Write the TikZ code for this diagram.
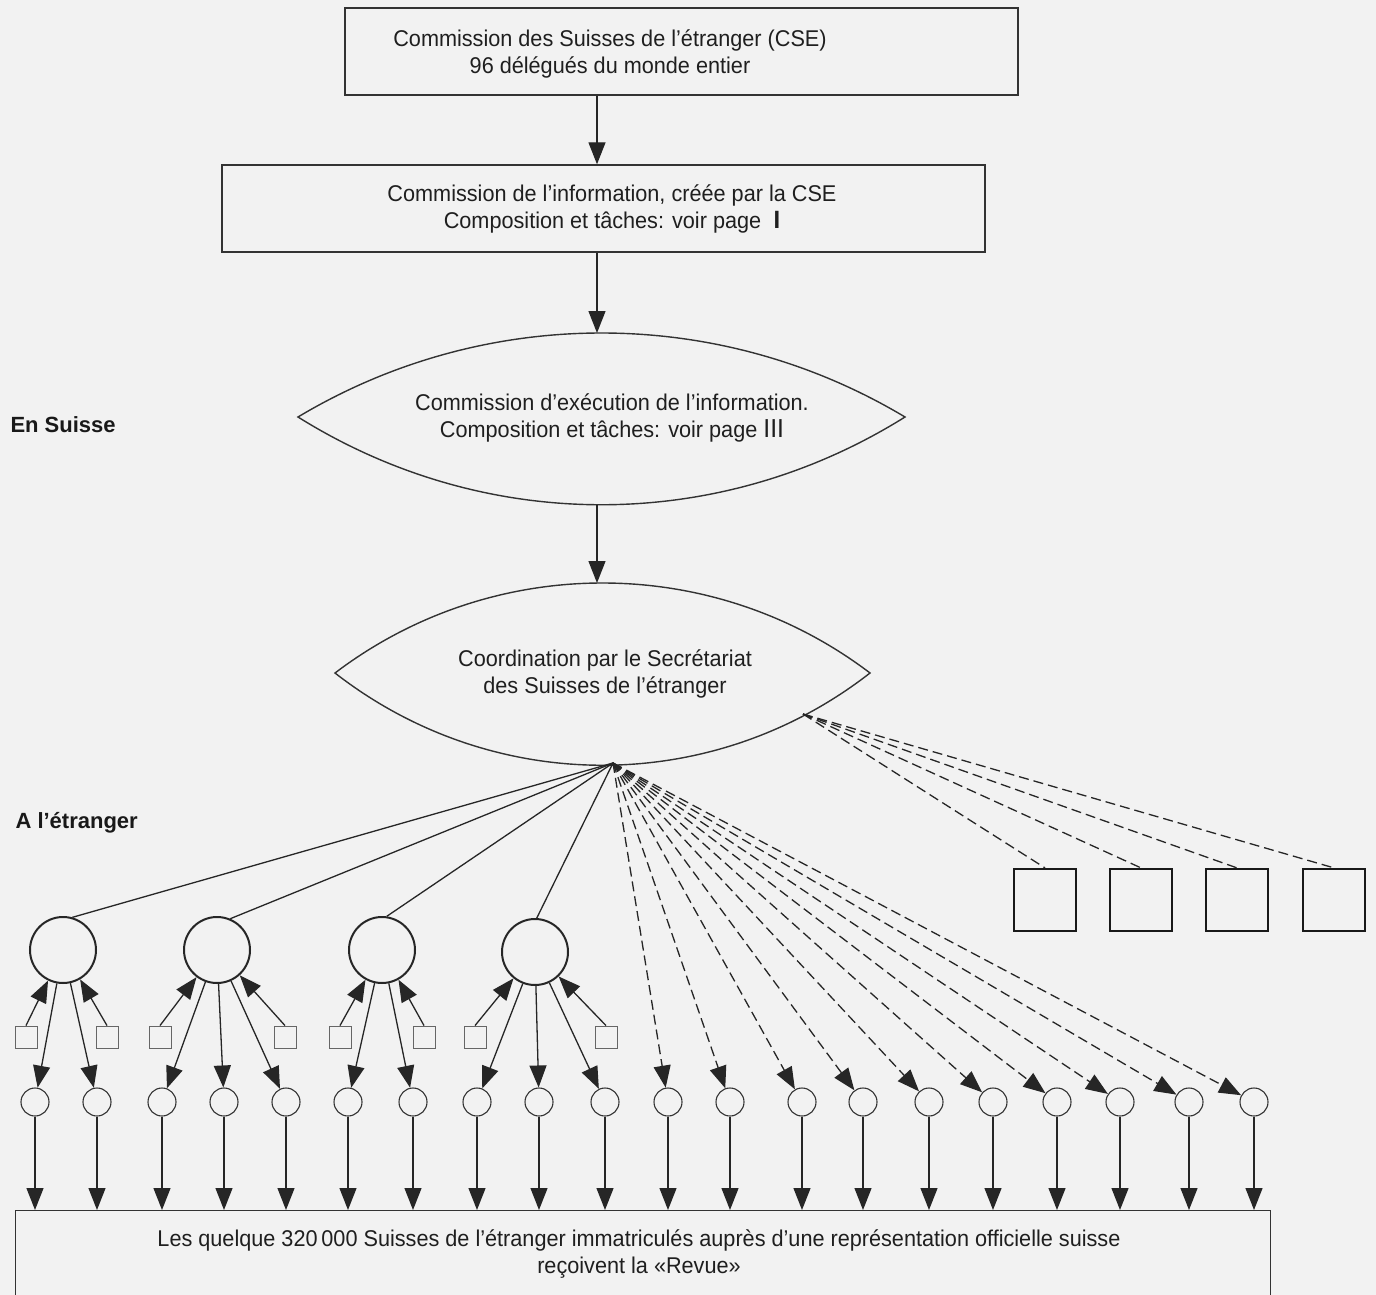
\documentclass[tikz,border=0pt]{standalone}
\usepackage{fontspec}
\setmainfont{Liberation Sans}[FakeStretch=0.95]
\newfontfamily\labfont{Liberation Sans}
\usetikzlibrary{arrows.meta}
\begin{document}
\begin{tikzpicture}[x=1pt,y=-1pt,
  box/.style={draw=black!80, line width=1.4pt},
  conn/.style={draw=black!85, line width=1.3pt},
  arr/.style={conn, -{Triangle[length=22pt,width=17pt]}},
  dsh/.style={dash pattern=on 10pt off 5pt},
  txt/.style={font=\fontsize{22.8}{27}\selectfont, align=center, text=black!88},
  bigc/.style={circle, draw=black!85, line width=2pt, minimum size=66pt, inner sep=0pt},
  smc/.style={circle, draw=black!80, line width=1.1pt, minimum size=28pt, inner sep=0pt},
  sqs/.style={rectangle, draw=black!60, line width=0.9pt, minimum size=22pt, inner sep=0pt},
  sqb/.style={rectangle, draw=black!90, line width=2.2pt, minimum size=62pt, inner sep=0pt},
  lab/.style={font=\labfont\bfseries\fontsize{22}{26}\selectfont, anchor=west, text=black!90},
]
\useasboundingbox (0,0) rectangle (1376,1295);
\fill[white!95!black] (0,0) rectangle (1376,1295);

% spine
\coordinate (spine) at (597,0);

% box 1
\node[box, minimum width=673pt, minimum height=87pt, inner sep=0pt] (cse) at (681.5,51.5) {};
\node[txt] (cset) at (610,54) {Commission des Suisses de l’étranger (CSE)\\96 délégués du monde entier};

% box 2
\node[box, minimum width=763pt, minimum height=87pt, inner sep=0pt] (ci) at (603.5,208.5) {};
\node[txt] (cit) at (612,209) {Commission de l’information, créée par la CSE\\Composition et tâches: voir page \;{\fontsize{25}{25}\selectfont\bfseries I}};

% lens 1
\draw[box] (298,417) .. controls (485,305) and (718,305) .. (905,417)
  .. controls (718,534) and (485,534) .. (298,417) -- cycle;
\coordinate (l1top) at (597,333);
\coordinate (l1bot) at (597,505);
\node[txt] (l1t) at (612,418) {Commission d’exécution de l’information.\\Composition et tâches: voir page {\fontsize{26}{26}\selectfont III}};

% lens 2
\draw[box] (335,673) .. controls (493,553) and (712,553) .. (870,673)
  .. controls (712,796) and (493,796) .. (335,673) -- cycle;
\coordinate (l2top) at (597,583);
\node[txt] (l2t) at (605,674) {Coordination par le Secrétariat\\des Suisses de l’étranger};

\coordinate (o1) at (613,763);
\coordinate (o2) at (803,714);

% spine arrows
\draw[arr] (spine |- cse.south) -- (spine |- ci.north);
\draw[arr] (spine |- ci.south) -- (l1top);
\draw[arr] (l1bot) -- (l2top);

% side labels
\node[lab] (ens) at (7,425) {En Suisse};
\node[lab] (etr) at (12,823) {A l’étranger};

% big circles
\node[bigc] (bc1) at (63,950) {};
\node[bigc] (bc2) at (217,950) {};
\node[bigc] (bc3) at (382,950) {};
\node[bigc] (bc4) at (535,952) {};

% small squares
\foreach \x [count=\i] in {26,107,160,285,340,424,475,606}
  \node[sqs] (sq\i) at (\x,1037) {};

% big squares right
\foreach \x [count=\i] in {1045,1141,1237,1334}
  \node[sqb] (B\i) at (\x,900) {};

% small circles
\foreach \x [count=\i] in {35,97,162,224,286,348,413,477,539,605,668,730,802,863,929,993,1057,1120,1189,1254}
  \node[smc] (sc\i) at (\x,1102) {};

% bottom box
\node[box, minimum width=1255pt, minimum height=120pt, inner sep=0pt, anchor=north west] (bot) at (15,1210) {};
\node[txt] (bott) at (639,1254) {Les quelque 320\,000 Suisses de l’étranger immatriculés auprès d’une représentation officielle suisse\\reçoivent la «Revue»};

% fan to big circles
\draw[conn] (o1) -- (bc1.74);
\draw[conn] (o1) -- (bc2.67);
\draw[conn] (o1) -- (bc3.82);
\draw[conn] (o1) -- (bc4.87);

% squares to big circles
\draw[arr] (sq1.north) -- (bc1);
\draw[arr] (sq2.north) -- (bc1);
\draw[arr] (sq3.north) -- (bc2);
\draw[arr] (sq4.north) -- (bc2);
\draw[arr] (sq5.north) -- (bc3);
\draw[arr] (sq6.north) -- (bc3);
\draw[arr] (sq7.north) -- (bc4);
\draw[arr] (sq8.north) -- (bc4);

% big circles to small circles
\draw[arr] (bc1) -- (sc1);
\draw[arr] (bc1) -- (sc2);
\draw[arr] (bc2) -- (sc3);
\draw[arr] (bc2) -- (sc4);
\draw[arr] (bc2) -- (sc5);
\draw[arr] (bc3) -- (sc6);
\draw[arr] (bc3) -- (sc7);
\draw[arr] (bc4) -- (sc8);
\draw[arr] (bc4) -- (sc9);
\draw[arr] (bc4) -- (sc10);

% dashed fan to small circles
\foreach \i in {11,...,20}
  \draw[arr, dsh] (o1) -- (sc\i);

% dashed lines to big squares
\foreach \i in {1,...,4}
  \draw[conn, dsh] (o2) -- (B\i.north);

% vertical arrows to bottom box
\foreach \i in {1,...,20}
  \draw[arr] (sc\i.south) -- (sc\i.south |- bot.north);
\end{tikzpicture}
\end{document}
